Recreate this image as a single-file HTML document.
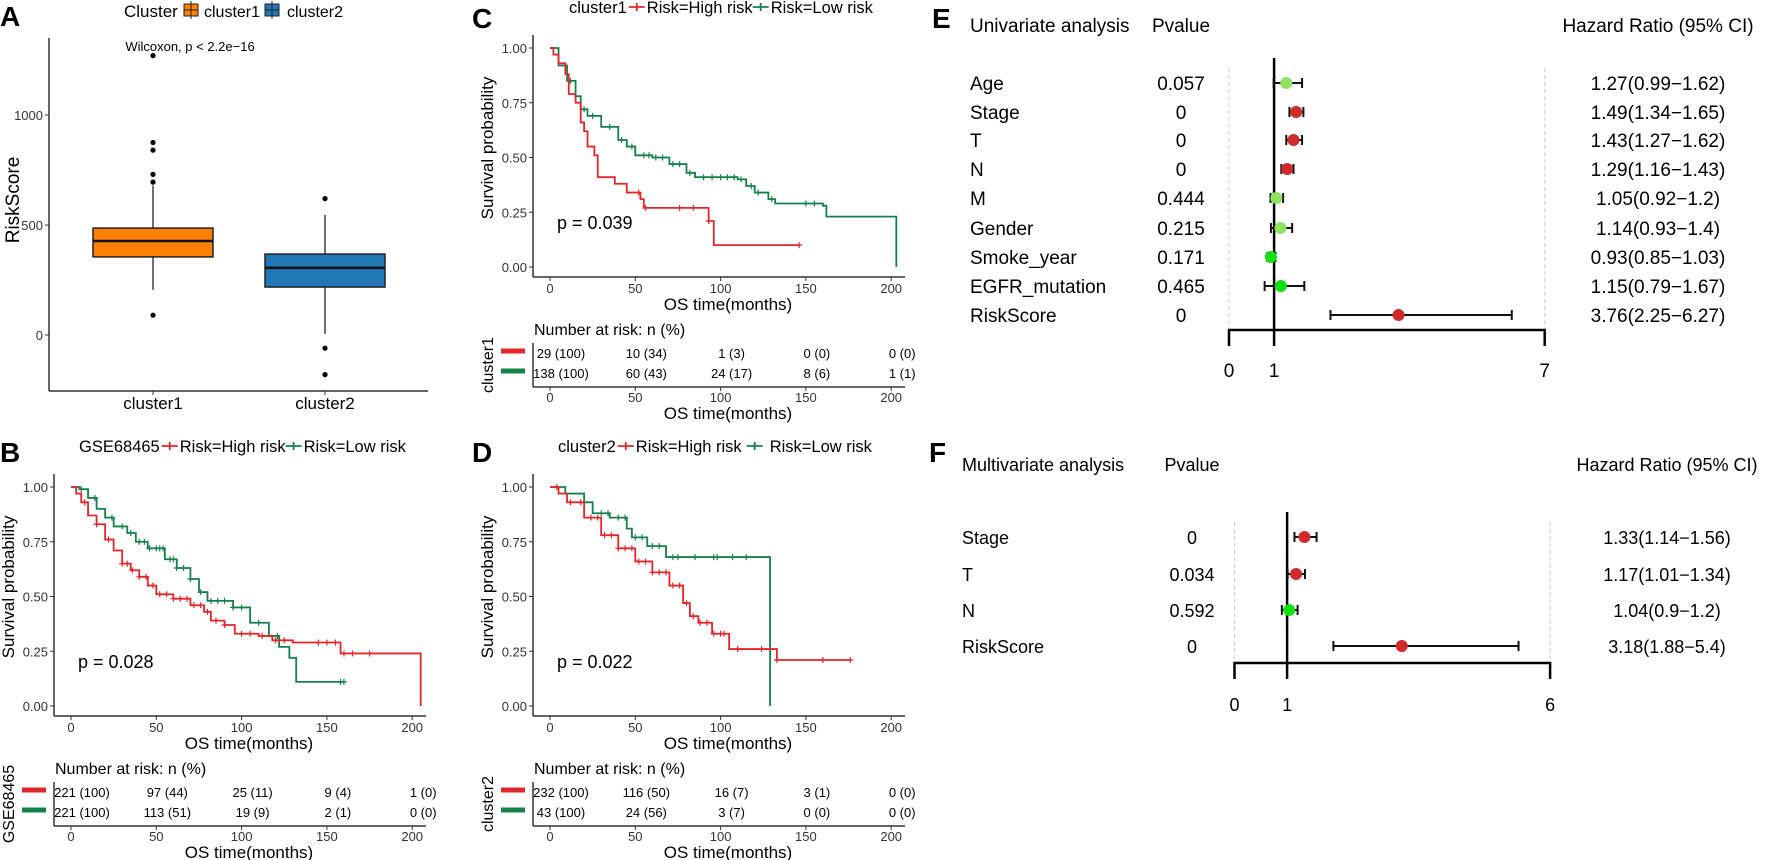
<!DOCTYPE html>
<html><head><meta charset="utf-8">
<style>
html,body{margin:0;padding:0;background:#fff;}
svg{display:block;font-family:"Liberation Sans",Arial,sans-serif;}
</style></head>
<body>
<svg id="fig" width="1772" height="860" viewBox="0 0 1772 860" xmlns="http://www.w3.org/2000/svg"></svg>
<script>
// ---------- DATA ----------
const boxCategories=["cluster1","cluster2"];
const boxQ1=[355,218];
const boxMedian=[427,305];
const boxQ3=[486,368];
const boxWhiskLo=[205,5];
const boxWhiskHi=[680,546];
const boxOutliers=[[1270,875,840,730,695,90],[620,-60,-180]];
const boxTicks=[0,500,1000];

const bHighT=[0,3,6,10,15,20,25,30,35,40,45,50,60,70,78,82,90,96,110,118,130,158,205];
const bHighS=[1,0.97,0.93,0.87,0.83,0.76,0.71,0.65,0.62,0.59,0.55,0.51,0.49,0.46,0.43,0.39,0.37,0.33,0.32,0.30,0.29,0.24,0];
const bHighCens=[8,15,22,30,33,36,40,44,48,52,56,60,64,68,72,76,80,85,90,100,105,112,120,125,145,150,155,160,165,175];
const bLowT=[0,5,10,15,20,25,33,38,45,55,62,70,75,80,95,105,116,122,128,132];
const bLowS=[1,0.99,0.95,0.90,0.86,0.82,0.79,0.75,0.72,0.67,0.63,0.58,0.52,0.48,0.45,0.38,0.32,0.27,0.22,0.11];
const bLowCens=[6,14,24,30,35,40,43,46,50,52,54,58,60,62,66,70,76,82,86,90,95,100,110,121,158,160];
const bLowEnd=160, bHighEnd=205;
const bRiskHigh=["221 (100)","97 (44)","25 (11)","9 (4)","1 (0)"];
const bRiskLow=["221 (100)","113 (51)","19 (9)","2 (1)","0 (0)"];

const cHighT=[0,2,5,9,11,15,18,20,22,26,28,38,45,53,55,93,96];
const cHighS=[1,0.97,0.93,0.88,0.79,0.75,0.66,0.62,0.55,0.51,0.41,0.38,0.34,0.31,0.27,0.21,0.10];
const cHighCens=[52,56,76,84,93,146];
const cHighEnd=146;
const cLowT=[0,5,10,15,18,22,30,40,45,50,60,70,80,85,110,115,120,128,132,160,162,203];
const cLowS=[1,0.92,0.85,0.78,0.72,0.69,0.64,0.58,0.55,0.51,0.50,0.47,0.43,0.41,0.40,0.37,0.34,0.31,0.29,0.28,0.23,0];
const cLowCens=[12,20,25,35,42,48,55,58,62,66,72,76,82,90,95,100,104,108,112,118,122,130,150,155];
const cLowEnd=203;
const cRiskHigh=["29 (100)","10 (34)","1 (3)","0 (0)","0 (0)"];
const cRiskLow=["138 (100)","60 (43)","24 (17)","8 (6)","1 (1)"];

const dHighT=[0,5,10,20,30,40,50,60,70,78,82,87,95,105,133];
const dHighS=[1,0.97,0.93,0.86,0.78,0.72,0.66,0.61,0.55,0.47,0.41,0.38,0.33,0.26,0.21];
const dHighCens=[4,12,18,24,28,32,36,40,44,48,52,56,60,64,68,72,76,80,84,88,92,96,100,102,110,124,133,160,176];
const dHighEnd=176;
const dLowT=[0,9,20,25,35,45,48,57,68,129];
const dLowS=[1,0.97,0.93,0.88,0.86,0.81,0.77,0.73,0.68,0];
const dLowCens=[30,34,40,44,50,54,60,64,72,75,85,96,98,107,115];
const dLowEnd=129;
const dRiskHigh=["232 (100)","116 (50)","16 (7)","3 (1)","0 (0)"];
const dRiskLow=["43 (100)","24 (56)","3 (7)","0 (0)","0 (0)"];

const kmTicks=[0,50,100,150,200];
const survTicks=[0,0.25,0.5,0.75,1];
const survTickLabels=["0.00","0.25","0.50","0.75","1.00"];

const eNames=["Age","Stage","T","N","M","Gender","Smoke_year","EGFR_mutation","RiskScore"];
const ePvals=["0.057","0","0","0","0.444","0.215","0.171","0.465","0"];
const eHR=[1.27,1.49,1.43,1.29,1.05,1.14,0.93,1.15,3.76];
const eLo=[0.99,1.34,1.27,1.16,0.92,0.93,0.85,0.79,2.25];
const eHi=[1.62,1.65,1.62,1.43,1.2,1.4,1.03,1.67,6.27];
const eHRText=["1.27(0.99\u22121.62)","1.49(1.34\u22121.65)","1.43(1.27\u22121.62)","1.29(1.16\u22121.43)","1.05(0.92\u22121.2)","1.14(0.93\u22121.4)","0.93(0.85\u22121.03)","1.15(0.79\u22121.67)","3.76(2.25\u22126.27)"];
const eColors=["#8fe35f","#d12a2a","#d12a2a","#d12a2a","#8fe35f","#8fe35f","#10e010","#10e010","#d12a2a"];

const fNames=["Stage","T","N","RiskScore"];
const fPvals=["0","0.034","0.592","0"];
const fHR=[1.33,1.17,1.04,3.18];
const fLo=[1.14,1.01,0.9,1.88];
const fHi=[1.56,1.34,1.2,5.4];
const fHRText=["1.33(1.14\u22121.56)","1.17(1.01\u22121.34)","1.04(0.9\u22121.2)","3.18(1.88\u22125.4)"];
const fColors=["#d12a2a","#d12a2a","#10e010","#d12a2a"];

// ---------- HELPERS ----------
const NS="http://www.w3.org/2000/svg";
const svg=document.getElementById("fig");
function mk(tag,attrs,parent){const e=document.createElementNS(NS,tag);for(const k in attrs)e.setAttribute(k,attrs[k]);(parent||svg).appendChild(e);return e;}
function txt(s,x,y,size,anchor,parent,extra){const e=mk("text",Object.assign({x:x,y:y,"font-size":size,"text-anchor":anchor||"start",fill:"#000"},extra||{}),parent);e.textContent=s;return e;}
const RED="#e3262b", GREEN="#17804a";

[["A",0,26],["B",0,462],["C",472,28],["D",472,462],["E",932,28],["F",929,462]].forEach(p=>{
  const t=txt(p[0],p[1],p[2],28,"start",svg,{"font-weight":"bold"});
  
  
});

// ---------- PANEL A ----------
(function(){
  const g=mk("g",{});
  
  
  const y=v=>335-v*0.22;
  const cx=[153,325], hw=60;
  const fills=["#ff8000","#2077b4"];
  const ya=mk("line",{x1:49,y1:38,x2:49,y2:391,stroke:"#333","stroke-width":1.5},g);
  
  
  const xa=mk("line",{x1:49,y1:391,x2:428,y2:391,stroke:"#333","stroke-width":1.5},g);
  
  
  boxTicks.forEach(v=>{
    mk("line",{x1:45,x2:49,y1:y(v),y2:y(v),stroke:"#333"},g);
    const t=txt(String(v),43,y(v)+5,13,"end",g,{fill:"#333"});
    
    
  });
  const yt=txt("RiskScore",0,0,19,"middle",g,{transform:"translate(19,200) rotate(-90)"});
  
  
  boxCategories.forEach((c,i)=>{
    const x=cx[i];
    mk("line",{x1:x,x2:x,y1:391,y2:395,stroke:"#333"},g);
    const t=txt(c,x,409,17,"middle",g);
    
    
    const w=mk("line",{x1:x,x2:x,y1:y(boxWhiskHi[i]),y2:y(boxWhiskLo[i]),stroke:"#222","stroke-width":1.3},g);
    
    
    const b=mk("rect",{x:x-hw,y:y(boxQ3[i]),width:2*hw,height:y(boxQ1[i])-y(boxQ3[i]),fill:fills[i],stroke:"#222","stroke-width":1.5},g);
    
    
    const m=mk("line",{x1:x-hw,x2:x+hw,y1:y(boxMedian[i]),y2:y(boxMedian[i]),stroke:"#111","stroke-width":2.5},g);
    
    
    boxOutliers[i].forEach(v=>{
      const o=mk("circle",{cx:x,cy:y(v),r:2.6,fill:"#000"},g);
      
      
    });
  });
  const w=txt("Wilcoxon, p < 2.2e\u221216",190,51,13,"middle",g);
  
  
  const lg=mk("g",{},g);
  
  
  txt("Cluster",124,17,17,"start",lg);
  [[184,"cluster1",0,204],[265,"cluster2",1,287]].forEach(k=>{
    const r=mk("rect",{x:k[0],y:4,width:14,height:12,fill:fills[k[2]],stroke:"#222"},lg);
    
    
    mk("line",{x1:k[0],x2:k[0]+14,y1:10,y2:10,stroke:"#222"},lg);
    mk("line",{x1:k[0]+7,x2:k[0]+7,y1:1,y2:19,stroke:"#222"},lg);
    const t=txt(k[1],k[3],17,16,"start",lg);
    
    
  });
})();

// ---------- KM PANELS ----------
function stepAt(T,S,t){let s=S[0];for(let i=0;i<T.length;i++){if(T[i]<=t)s=S[i];}return s;}
function drawKM(cfg){
  const dx=cfg.dx, dy=cfg.dy;
  const g=mk("g",{transform:"translate("+dx+","+dy+")"});
  
  
  const x=t=>71+t*1.706;
  const y=s=>706-s*219;
  const ya=mk("line",{x1:54,y1:474,x2:54,y2:716,stroke:"#333","stroke-width":1.5},g);
  
  
  const xa=mk("line",{x1:54,y1:716,x2:426,y2:716,stroke:"#333","stroke-width":1.5},g);
  
  
  survTicks.forEach((v,i)=>{
    mk("line",{x1:50,x2:54,y1:y(v),y2:y(v),stroke:"#333"},g);
    const t=txt(survTickLabels[i],48,y(v)+5,13,"end",g,{fill:"#333"});
    
    
  });
  kmTicks.forEach(v=>{
    mk("line",{x1:x(v),x2:x(v),y1:716,y2:720,stroke:"#333"},g);
    const t=txt(String(v),x(v),732,13,"middle",g,{fill:"#333"});
    
    
  });
  const xt=txt("OS time(months)",249,749,17,"middle",g);
  
  
  const yt=txt("Survival probability",0,0,17,"middle",g,{transform:"translate(14,587) rotate(-90)"});
  
  
  const pv=txt(cfg.p,78,668,18,"start",g);
  
  
  function curve(T,S,end,cens,col,nm){
    let d="M"+x(T[0])+","+y(S[0]);
    for(let i=1;i<T.length;i++){d+="H"+x(T[i])+"V"+y(S[i]);}
    d+="H"+x(end);
    const p=mk("path",{d:d,fill:"none",stroke:col,"stroke-width":1.8},g);
    
    
    cens.forEach(t=>{
      const s=stepAt(T,S,t);
      const c=mk("path",{d:"M"+(x(t)-3)+","+y(s)+"h6M"+x(t)+","+(y(s)-3)+"v6",stroke:col,"stroke-width":1.2},g);
      
      
    });
  }
  curve(cfg.lowT,cfg.lowS,cfg.lowEnd,cfg.lowC,GREEN,"low-risk");
  curve(cfg.highT,cfg.highS,cfg.highEnd,cfg.highC,RED,"high-risk");
  // legend (positions follow measured text widths)
  const lg=mk("g",{},g);
  
  
  const lt=txt(cfg.title,cfg.lx,452,16.5,"start",lg);
  
  
  let cx=cfg.lx+lt.getComputedTextLength()+2;
  mk("path",{d:"M"+cx+",446h16M"+(cx+8)+",442v8",stroke:RED,"stroke-width":1.8},lg);
  const e1=txt("Risk=High risk",cx+18,452,16.5,"start",lg);
  
  
  cx=cx+18+e1.getComputedTextLength()+cfg.gap;
  mk("path",{d:"M"+cx+",446h16M"+(cx+8)+",442v8",stroke:GREEN,"stroke-width":1.8},lg);
  const e2=txt("Risk=Low risk",cx+18+cfg.gap,452,16.5,"start",lg);
  
  
  const tg=mk("g",{},g);
  
  
  txt("Number at risk: n (%)",55,774,16,"start",tg);
  mk("line",{x1:54,y1:782,x2:54,y2:826,stroke:"#333","stroke-width":1.5},tg);
  mk("line",{x1:54,y1:826,x2:426,y2:826,stroke:"#333","stroke-width":1.5},tg);
  kmTicks.forEach((v,i)=>{
    mk("line",{x1:x(v),x2:x(v),y1:826,y2:830,stroke:"#333"},tg);
    const t=txt(String(v),x(v),841,13,"middle",tg,{fill:"#333"});
    
    
    const a=txt(cfg.riskHigh[i],x(v)+11,797,13,"middle",tg);
    
    
    const b=txt(cfg.riskLow[i],x(v)+11,817,13,"middle",tg);
    
    
  });
  txt("OS time(months)",249,858,17,"middle",tg);
  txt(cfg.title,0,0,16,"middle",tg,{transform:"translate(14,804) rotate(-90)"});
  mk("line",{x1:22,x2:46,y1:790,y2:790,stroke:RED,"stroke-width":5},tg);
  mk("line",{x1:22,x2:46,y1:810,y2:810,stroke:GREEN,"stroke-width":5},tg);
}
drawKM({name:"panel-b-km",dx:0,dy:0,title:"GSE68465",p:"p = 0.028",lx:79,gap:0,
  highT:bHighT,highS:bHighS,highEnd:bHighEnd,highC:bHighCens,lowT:bLowT,lowS:bLowS,lowEnd:bLowEnd,lowC:bLowCens,riskHigh:bRiskHigh,riskLow:bRiskLow});
drawKM({name:"panel-c-km",dx:479,dy:-439,title:"cluster1",p:"p = 0.039",lx:90,gap:0,
  highT:cHighT,highS:cHighS,highEnd:cHighEnd,highC:cHighCens,lowT:cLowT,lowS:cLowS,lowEnd:cLowEnd,lowC:cLowCens,riskHigh:cRiskHigh,riskLow:cRiskLow});
drawKM({name:"panel-d-km",dx:479,dy:0,title:"cluster2",p:"p = 0.022",lx:79,gap:5,
  highT:dHighT,highS:dHighS,highEnd:dHighEnd,highC:dHighCens,lowT:dLowT,lowS:dLowS,lowEnd:dLowEnd,lowC:dLowCens,riskHigh:dRiskHigh,riskLow:dRiskLow});

// ---------- FOREST PLOTS ----------
function drawForest(cfg){
  const g=mk("g",{});
  
  
  const x=v=>cfg.x0+v*cfg.ppu;
  const top=cfg.rows[0]-15, bot=cfg.axisY;
  txt(cfg.header,cfg.nameX,cfg.headY,cfg.fs,"start",g);
  txt("Pvalue",cfg.pX,cfg.headY,cfg.fs,"middle",g);
  txt("Hazard Ratio (95% CI)",cfg.hrX,cfg.headY,cfg.fs,"middle",g);
  mk("line",{x1:x(0),x2:x(0),y1:top,y2:bot,stroke:"#ccc","stroke-dasharray":"4,3"},g);
  mk("line",{x1:x(cfg.max),x2:x(cfg.max),y1:top,y2:bot,stroke:"#ccc","stroke-dasharray":"4,3"},g);
  const ax=mk("path",{d:"M"+x(0)+","+(bot+16)+"V"+bot+"H"+x(cfg.max)+"V"+(bot+16),fill:"none",stroke:"#000","stroke-width":2.5},g);
  
  
  const ref=mk("line",{x1:x(1),x2:x(1),y1:top-10,y2:bot+16,stroke:"#000","stroke-width":2.5},g);
  
  
  [0,1,cfg.max].forEach(v=>{
    const t=txt(String(v),x(v),cfg.tickY,cfg.fs,"middle",g);
    
    
  });
  cfg.names.forEach((n,i)=>{
    const yy=cfg.rows[i];
    const a=txt(n,cfg.nameX,yy+7,cfg.fs,"start",g);
    
    
    const b=txt(cfg.pvals[i],cfg.pX,yy+7,cfg.fs,"middle",g);
    
    
    const c=txt(cfg.hrText[i],cfg.hrX,yy+7,cfg.fs,"middle",g);
    
    
    const ci=mk("path",{d:"M"+x(cfg.lo[i])+","+yy+"H"+x(cfg.hi[i])+"M"+x(cfg.lo[i])+","+(yy-5)+"v10M"+x(cfg.hi[i])+","+(yy-5)+"v10",stroke:"#111","stroke-width":2,fill:"none"},g);
    
    
    const pt=mk("circle",{cx:x(cfg.hr[i]),cy:yy,r:6,fill:cfg.colors[i]},g);
    
    
  });
}
drawForest({name:"panel-e-forest",header:"Univariate analysis",names:eNames,pvals:ePvals,hr:eHR,lo:eLo,hi:eHi,hrText:eHRText,colors:eColors,
  x0:1229,ppu:45.1,max:7,rows:[83,112,140,169,198,228,257,286,315],axisY:330,tickY:377,headY:32,nameX:970,pX:1181,hrX:1658,fs:19});
drawForest({name:"panel-f-forest",header:"Multivariate analysis",names:fNames,pvals:fPvals,hr:fHR,lo:fLo,hi:fHi,hrText:fHRText,colors:fColors,
  x0:1234.5,ppu:52.6,max:6,rows:[537,574,610,646],axisY:663,tickY:711,headY:471,nameX:962,pX:1192,hrX:1667,fs:18});
</script>
</body></html>
